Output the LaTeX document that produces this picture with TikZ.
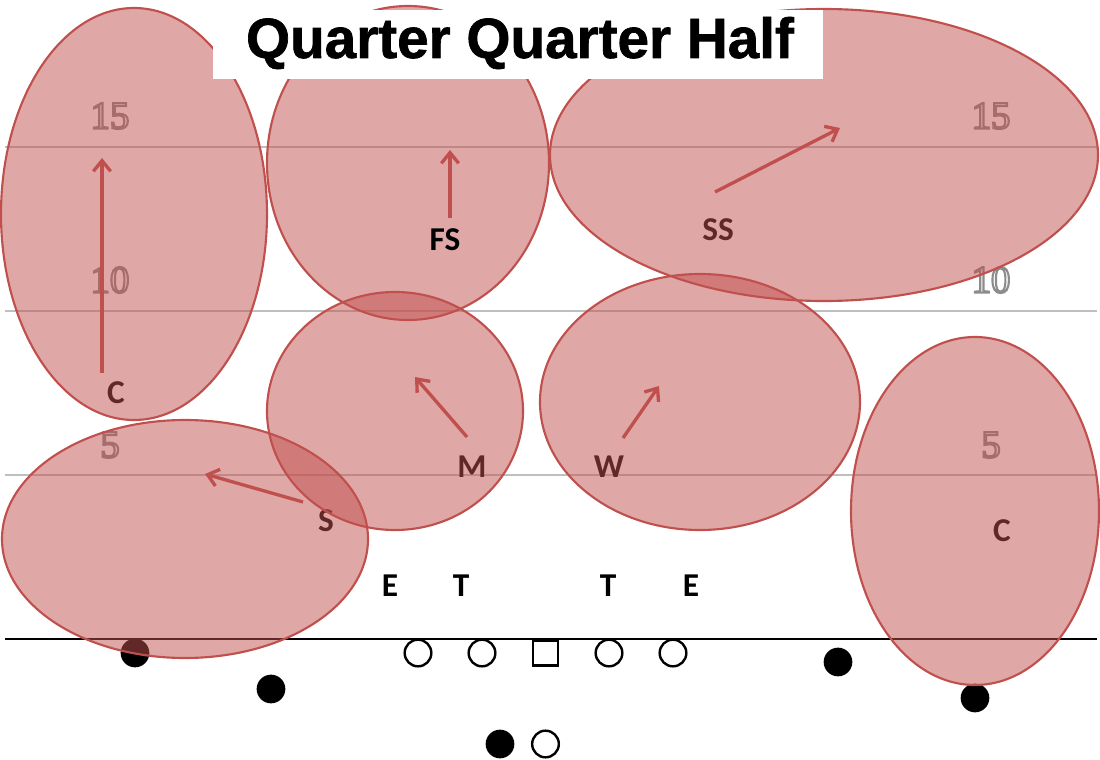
\documentclass[tikz,border=0pt]{standalone}
\usepackage{fontspec}
\setmainfont{Carlito}
\newfontfamily\titlefont{Liberation Sans Bold}[FakeBold=1.2]
\newfontfamily\yardfont{Liberation Serif}
\usetikzlibrary{arrows.meta}
\definecolor{zonered}{HTML}{C0504D}
% outlined yard numbers: white fill, grey stroke
\newcommand\yardnum[1]{\special{pdf:literal direct 2 Tr 1.6 w 0.55 0.55 0.55 RG}#1\special{pdf:literal direct 0 Tr}}

\begin{document}
\begin{tikzpicture}[x=0.75pt, y=-0.75pt,
	zone/.style={draw=zonered, line width=1.6pt, fill=zonered, fill opacity=0.5},
	drop/.style={draw=zonered, line width=2.5pt, -{Straight Barb[length=8pt,width=13pt]}},
	player/.style={font=\bfseries\fontsize{25}{30}\selectfont, inner sep=0pt},
	yard/.style={font=\yardfont\fontsize{29}{34}\selectfont, text=white, inner sep=0pt},
	oline/.style={circle, draw, line width=1.8pt, minimum size=20pt, inner sep=0pt},
	dline/.style={circle, fill, minimum size=21.5pt, inner sep=0pt},
	yardline/.style={draw=black!25, line width=1.1pt}]
	\useasboundingbox (0,0) rectangle (1100,760);

	% field
	\draw[yardline] (5,147) -- (1097,147);
	\draw[yardline] (5,311) -- (1097,311);
	\draw[yardline] (5,475) -- (1097,475);
	\draw[line width=1.1pt] (5,639) -- (1097,639);
	\node[yard] (l15) at (110,116) {\yardnum{15}};
	\node[yard] (l10) at (110,280) {\yardnum{10}};
	\node[yard] (l5) at (110,445) {\yardnum{5}};
	\node[yard] (r15) at (991,116) {\yardnum{15}};
	\node[yard] (r10) at (991,280) {\yardnum{10}};
	\node[yard] (r5) at (991,445) {\yardnum{5}};

	% defenders
	\node[player] (CL) at (116,393) {C};
	\node[player] (SS) at (718,230) {SS};
	\node[player] (M) at (472,467) {M};
	\node[player] (W) at (609,467) {W};
	\node[player] (S) at (326,521) {S};
	\node[player] (CR) at (1002,531) {C};
	\node[player] (EL) at (390,586) {E};
	\node[player] (TL) at (461,586) {T};
	\node[player] (TR) at (608,586) {T};
	\node[player] (ER) at (691,586) {E};

	% offense
	\foreach \x/\n in {418/lt, 482/lg, 609/rg, 673/rt}
		\node[oline] (\n) at (\x,653) {};
	\node[draw, line width=1.8pt, minimum size=19pt, inner sep=0pt] (ctr) at (545.5,653) {};
	\node[oline] (rb) at (545.5,744) {};
	\node[dline] (qb) at (500,744) {};
	\node[dline] (wl) at (135,653) {};
	\node[dline] (sl) at (271,689) {};
	\node[dline] (sr) at (838,662) {};
	\node[dline] (wr) at (975,698) {};

	% zones
	\draw[zone] (134,214) ellipse [x radius=133, y radius=206];
	\draw[zone] (408,163) ellipse [x radius=141, y radius=157];
	\draw[zone] (824,155) ellipse [x radius=274, y radius=146];
	\draw[zone] (395,411) ellipse [x radius=128, y radius=119];
	\draw[zone] (700,402) ellipse [x radius=160, y radius=128];
	\draw[zone] (185,539) ellipse [x radius=183, y radius=119];
	\draw[zone] (975,511) ellipse [x radius=124, y radius=174];

	% drops
	\coordinate (cl1) at (102,373);
	\coordinate (cl2) at (102,158);
	\coordinate (fs1) at (450,218);
	\coordinate (fs2) at (450,150);
	\coordinate (ss1) at (715,192);
	\coordinate (ss2) at (840,128);
	\coordinate (m1) at (467,437);
	\coordinate (m2) at (415,377);
	\coordinate (w1) at (623,438);
	\coordinate (w2) at (659,386);
	\coordinate (s1) at (303,502);
	\coordinate (s2) at (205,474);
	\draw[drop] (cl1) -- (cl2);
	\draw[drop] (fs1) -- (fs2);
	\draw[drop] (ss1) -- (ss2);
	\draw[drop] (m1) -- (m2);
	\draw[drop] (w1) -- (w2);
	\draw[drop] (s1) -- (s2);
	\node[player] (FS) at (445,240) {FS};

	\fill[white] (213,10) rectangle (823,79);
	\node[font=\titlefont\fontsize{42.5}{50}\selectfont, inner sep=0pt] (title) at (520,43) {Quarter Quarter Half};
\end{tikzpicture}
\end{document}
